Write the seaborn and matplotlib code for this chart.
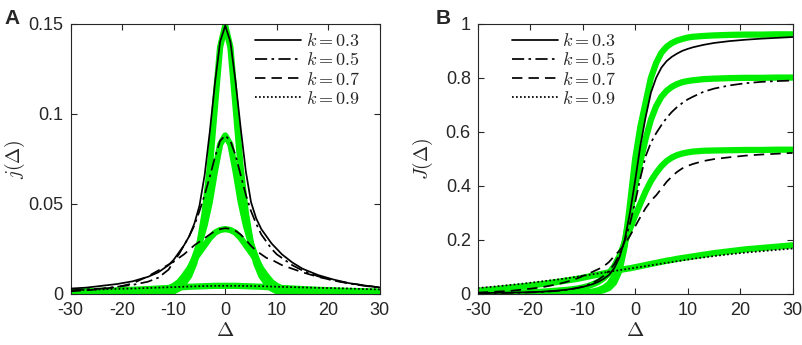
import numpy as np
import pandas as pd
import matplotlib
matplotlib.use('Agg')
import matplotlib.pyplot as plt
import seaborn as sns

sns.set_style('ticks')
plt.rcParams['font.family'] = ['Liberation Sans', 'DejaVu Sans']
plt.rcParams['mathtext.fontset'] = 'cm'
plt.rcParams['axes.unicode_minus'] = False

# Delta grid shared by all curves
delta = [-30, -27, -24, -21, -18, -15, -13, -11, -10, -9, -8, -7, -6, -5, -4, -3, -2, -1,
         0, 1, 2, 3, 4, 5, 6, 7, 8, 9, 10, 11, 13, 15, 18, 21, 24, 27, 30]

k_labels = ['$k=0.3$', '$k=0.5$', '$k=0.7$', '$k=0.9$']

# panel A: j(Delta), black curves
jA_k03 = [0.003, 0.0035, 0.0045, 0.0055, 0.007, 0.0095, 0.012, 0.016, 0.019, 0.023, 0.027, 0.032, 0.039,
          0.049, 0.066, 0.09, 0.117, 0.14, 0.149, 0.14, 0.118, 0.092, 0.068, 0.051, 0.042, 0.036, 0.032,
          0.028, 0.025, 0.022, 0.0175, 0.014, 0.0105, 0.008, 0.006, 0.0047, 0.0036]
jA_k05 = [0.002, 0.0025, 0.003, 0.004, 0.005, 0.0068, 0.009, 0.0135, 0.018, 0.022, 0.027, 0.032, 0.038,
          0.046, 0.055, 0.065, 0.076, 0.085, 0.088, 0.085, 0.077, 0.066, 0.055, 0.046, 0.039, 0.033, 0.029,
          0.025, 0.022, 0.02, 0.016, 0.013, 0.0098, 0.0075, 0.0058, 0.0045, 0.0035]
jA_k07 = [0.0015, 0.002, 0.0028, 0.0038, 0.0058, 0.0098, 0.013, 0.0163, 0.018, 0.02, 0.022, 0.0245, 0.027,
          0.029, 0.031, 0.033, 0.035, 0.036, 0.0365, 0.0362, 0.035, 0.033, 0.03, 0.0267, 0.024, 0.022, 0.02,
          0.019, 0.0175, 0.016, 0.014, 0.012, 0.0095, 0.0075, 0.006, 0.0047, 0.0036]
jA_k09 = [0.002, 0.0022, 0.0025, 0.0028, 0.003, 0.0033, 0.0035, 0.0037, 0.0038, 0.0039, 0.004, 0.0041, 0.0042,
          0.0043, 0.0044, 0.0044, 0.0045, 0.0045, 0.0045, 0.0045, 0.0045, 0.0045, 0.0044, 0.0044, 0.0043,
          0.0043, 0.0042, 0.0041, 0.004, 0.0039, 0.0038, 0.0036, 0.0034, 0.0032, 0.003, 0.0027, 0.0025]

# panel A: green (fitted) curves
gA_k03 = [0, 0, 0, 0, 0, 0, 0.0002, 0.0008, 0.0015, 0.003, 0.006, 0.01, 0.017, 0.028, 0.045, 0.07, 0.104,
          0.137, 0.149, 0.137, 0.104, 0.07, 0.045, 0.028, 0.017, 0.01, 0.006, 0.003, 0.0015, 0.0008, 0.0002,
          0, 0, 0, 0, 0, 0]
gA_k05 = [0, 0, 0, 0, 0, 0.0002, 0.0006, 0.0018, 0.003, 0.005, 0.008, 0.013, 0.02, 0.028, 0.038, 0.051, 0.068,
          0.083, 0.088, 0.083, 0.068, 0.051, 0.038, 0.028, 0.02, 0.013, 0.008, 0.005, 0.003, 0.0018, 0.0006,
          0.0002, 0, 0, 0, 0, 0]
gA_k07 = [0.0001, 0.0002, 0.0003, 0.0005, 0.0008, 0.0012, 0.0018, 0.003, 0.0045, 0.0065, 0.01, 0.014, 0.019,
          0.023, 0.027, 0.031, 0.034, 0.0355, 0.036, 0.0355, 0.034, 0.031, 0.027, 0.023, 0.019, 0.014, 0.01,
          0.0065, 0.0045, 0.003, 0.0018, 0.0012, 0.0008, 0.0005, 0.0003, 0.0002, 0.0001]
gA_k09 = [0.0013, 0.0015, 0.0017, 0.002, 0.0023, 0.0027, 0.003, 0.0033, 0.0035, 0.0036, 0.0038, 0.004, 0.0041,
          0.0042, 0.0043, 0.0044, 0.0045, 0.0045, 0.0045, 0.0045, 0.0045, 0.0044, 0.0043, 0.0042, 0.0041,
          0.004, 0.0038, 0.0036, 0.0035, 0.0033, 0.003, 0.0027, 0.0023, 0.002, 0.0017, 0.0015, 0.0013]

# panel B: J(Delta), black curves
jB_k03 = [0.003, 0.004, 0.005, 0.006, 0.008, 0.012, 0.016, 0.022, 0.026, 0.031, 0.037, 0.045, 0.056, 0.07,
          0.095, 0.135, 0.2, 0.3, 0.42, 0.55, 0.655, 0.745, 0.8, 0.838, 0.862, 0.878, 0.89, 0.9, 0.907,
          0.913, 0.922, 0.929, 0.936, 0.941, 0.945, 0.948, 0.951]
jB_k05 = [0.002, 0.003, 0.004, 0.005, 0.007, 0.011, 0.015, 0.022, 0.027, 0.034, 0.042, 0.053, 0.067, 0.085,
          0.11, 0.145, 0.195, 0.26, 0.34, 0.43, 0.51, 0.56, 0.595, 0.625, 0.652, 0.674, 0.692, 0.707, 0.72,
          0.73, 0.748, 0.76, 0.772, 0.78, 0.785, 0.788, 0.79]
jB_k07 = [0.005, 0.008, 0.011, 0.017, 0.024, 0.035, 0.045, 0.058, 0.066, 0.074, 0.083, 0.092, 0.102, 0.118,
          0.14, 0.16, 0.185, 0.215, 0.25, 0.285, 0.318, 0.345, 0.365, 0.39, 0.415, 0.435, 0.452, 0.465,
          0.474, 0.481, 0.492, 0.499, 0.506, 0.512, 0.516, 0.519, 0.522]
jB_k09 = [0.022, 0.027, 0.033, 0.039, 0.046, 0.053, 0.058, 0.064, 0.067, 0.07, 0.073, 0.076, 0.079, 0.082,
          0.085, 0.088, 0.091, 0.094, 0.097, 0.1, 0.103, 0.106, 0.109, 0.112, 0.115, 0.118, 0.121, 0.124,
          0.127, 0.13, 0.135, 0.14, 0.147, 0.153, 0.158, 0.163, 0.168]

# panel B: green curves
gB_k03 = [0, 0, 0, 0, 0, 0, 0.001, 0.002, 0.003, 0.004, 0.006, 0.009, 0.014, 0.022, 0.042, 0.085, 0.175,
          0.33, 0.5, 0.62, 0.71, 0.8, 0.855, 0.893, 0.915, 0.929, 0.938, 0.944, 0.949, 0.952, 0.955, 0.957,
          0.959, 0.96, 0.96, 0.961, 0.961]
gB_k05 = [0, 0, 0, 0, 0, 0.001, 0.002, 0.003, 0.004, 0.006, 0.009, 0.014, 0.022, 0.036, 0.065, 0.115, 0.195,
          0.295, 0.4, 0.49, 0.575, 0.645, 0.695, 0.73, 0.752, 0.767, 0.777, 0.784, 0.788, 0.791, 0.795,
          0.797, 0.799, 0.8, 0.8, 0.801, 0.801]
gB_k07 = [0.002, 0.003, 0.004, 0.006, 0.008, 0.012, 0.015, 0.02, 0.024, 0.029, 0.036, 0.045, 0.058, 0.077,
          0.102, 0.14, 0.19, 0.24, 0.29, 0.335, 0.38, 0.418, 0.448, 0.473, 0.492, 0.505, 0.514, 0.52, 0.524,
          0.527, 0.53, 0.531, 0.532, 0.533, 0.533, 0.534, 0.534]
gB_k09 = [0.012, 0.017, 0.023, 0.029, 0.036, 0.044, 0.05, 0.056, 0.06, 0.064, 0.068, 0.072, 0.076, 0.08,
          0.084, 0.088, 0.092, 0.095, 0.099, 0.103, 0.107, 0.111, 0.115, 0.119, 0.123, 0.126, 0.13, 0.133,
          0.136, 0.139, 0.145, 0.151, 0.158, 0.165, 0.17, 0.175, 0.18]

# MATLAB-like dash patterns
styles = ['-', (0, (7, 2.5, 1.5, 2.5)), (0, (6, 3.5)), (0, (1, 1.3))]
green = '#00ee00'

fig = plt.figure(figsize=(8.03, 3.45), dpi=100)
axA = fig.add_axes([0.088, 0.148, 0.385, 0.783])
axB = fig.add_axes([0.595, 0.148, 0.392, 0.783])


def draw(ax, greens, blacks):
    for g in greens:
        sns.lineplot(x=delta, y=g, ax=ax, color=green, lw=4.5, sort=False, zorder=2)
    handles = []
    for b, ls, lab in zip(blacks, styles, k_labels):
        sns.lineplot(x=delta, y=b, ax=ax, color='black', lw=1.25, linestyle=ls, sort=False, zorder=3)
        handles.append(ax.lines[-1])
    ax.set_xlim(-30, 30)
    ax.set_xticks([-30, -20, -10, 0, 10, 20, 30])
    ax.tick_params(direction='in', top=True, right=True, length=4, labelsize=13, width=0.8)
    ax.tick_params(axis='x', pad=6)
    ax.tick_params(axis='y', pad=5)
    for s in ax.spines.values():
        s.set_linewidth(0.8)
    ax.set_xlabel(r'$\Delta$', fontsize=15)
    ax.xaxis.set_label_coords(0.5, -0.1)
    return handles


leg_kw = dict(loc='upper left', frameon=False, fontsize=13, handlelength=2.55, handletextpad=0.25,
              labelspacing=0.12, borderaxespad=0, borderpad=0.3)

hA = draw(axA, [gA_k03, gA_k05, gA_k07, gA_k09], [jA_k03, jA_k05, jA_k07, jA_k09])
axA.set_ylim(0, 0.15)
axA.set_yticks([0, 0.05, 0.1, 0.15])
axA.set_yticklabels(['0', '0.05', '0.1', '0.15'])
axA.set_ylabel(r'$j(\Delta)$', fontsize=14)
axA.yaxis.set_label_coords(-0.14, 0.5)
axA.legend(hA, k_labels, bbox_to_anchor=(0.58, 0.985), **leg_kw)

hB = draw(axB, [gB_k03, gB_k05, gB_k07, gB_k09], [jB_k03, jB_k05, jB_k07, jB_k09])
axB.set_ylim(0, 1)
axB.set_yticks([0, 0.2, 0.4, 0.6, 0.8, 1])
axB.set_yticklabels(['0', '0.2', '0.4', '0.6', '0.8', '1'])
axB.set_ylabel(r'$J(\Delta)$', fontsize=14)
axB.yaxis.set_label_coords(-0.135, 0.5)
axB.legend(hB, k_labels, bbox_to_anchor=(0.09, 0.985), **leg_kw)

fig.text(0.005, 0.93, 'A', fontsize=15, fontweight='bold')
fig.text(0.542, 0.93, 'B', fontsize=15, fontweight='bold')

fig.savefig('out.png', dpi=100)
